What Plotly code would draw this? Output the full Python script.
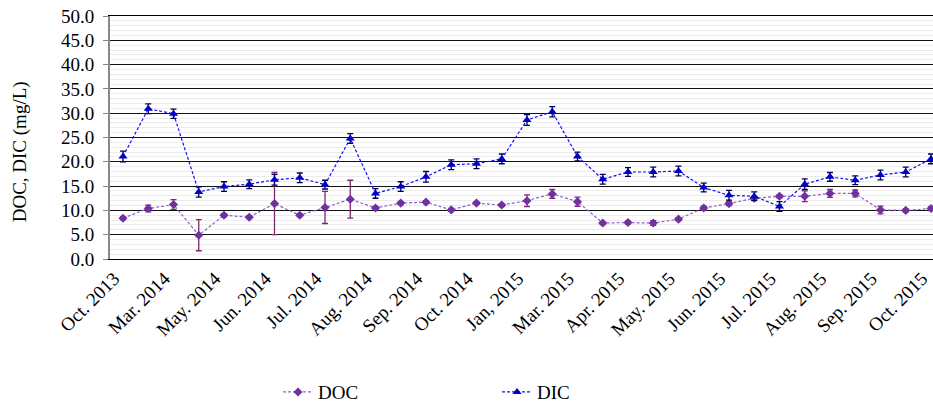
import plotly.graph_objects as go

# Sampling campaigns (33 events); every other one carries a date label
sample_no = list(range(33))
tick_pos = list(range(0, 33, 2))
tick_labels = ["Oct. 2013", "Mar. 2014", "May. 2014", "Jun. 2014", "Jul. 2014",
               "Aug. 2014", "Sep. 2014", "Oct. 2014", "Jan, 2015", "Mar. 2015",
               "Apr. 2015", "May. 2015", "Jun. 2015", "Jul. 2015", "Aug. 2015",
               "Sep. 2015", "Oct. 2015"]

doc = [8.4, 10.4, 11.2, 4.9, 9.0, 8.6, 11.4, 9.0, 10.6, 12.3, 10.5, 11.5, 11.7,
       10.1, 11.5, 11.1, 12.0, 13.4, 11.8, 7.4, 7.5, 7.4, 8.2, 10.5, 11.4, 12.5,
       12.9, 12.9, 13.5, 13.5, 10.1, 10.0, 10.4]
doc_err = [0.3, 0.7, 1.0, 3.2, 0.3, 0.3, 6.4, 0.3, 3.3, 3.9, 0.3, 0.3, 0.3,
           0.3, 0.2, 0.3, 1.2, 0.9, 0.95, 0.3, 0.3, 0.5, 0.3, 0.4, 0.4, 0.3,
           0.3, 1.1, 0.8, 0.7, 0.8, 0.3, 0.3]

dic = [21.1, 30.9, 29.9, 13.8, 14.9, 15.4, 16.3, 16.7, 15.3, 24.8, 13.5, 14.9,
       16.9, 19.4, 19.6, 20.6, 28.6, 30.3, 21.1, 16.4, 17.9, 17.9, 18.1, 14.7,
       13.1, 12.9, 10.8, 15.4, 16.9, 16.2, 17.3, 17.9, 20.6]
dic_err = [1.1, 1.0, 0.95, 1.05, 1.0, 0.9, 1.1, 1.0, 0.9, 1.0, 1.0, 1.0, 1.1,
           1.0, 1.0, 1.0, 1.1, 1.05, 0.9, 1.0, 0.9, 1.0, 1.0, 0.9, 1.0, 0.9,
           1.0, 1.1, 0.9, 0.9, 1.0, 1.0, 1.0]

FONT = "Times New Roman, Liberation Serif, DejaVu Serif, serif"

fig = go.Figure()

fig.add_trace(go.Scatter(
    x=sample_no, y=doc, name="DOC", mode="lines+markers",
    line=dict(color="#9060C8", width=1.2, dash="3px,2px"),
    marker=dict(symbol="diamond", size=7, color="#7030A0"),
    error_y=dict(type="data", array=doc_err, color="#7A2A70",
                 thickness=1.3, width=3),
    cliponaxis=False,
))

fig.add_trace(go.Scatter(
    x=sample_no, y=dic, name="DIC", mode="lines+markers",
    line=dict(color="#1010F0", width=1.2, dash="3px,2px"),
    marker=dict(symbol="triangle-up", size=8, color="#0000C8"),
    error_y=dict(type="data", array=dic_err, color="#000050",
                 thickness=1.3, width=3),
    cliponaxis=False,
))

fig.update_layout(
    width=933, height=403,
    margin=dict(l=110, r=0, t=16, b=144, autoexpand=False),
    paper_bgcolor="white", plot_bgcolor="white",
    font=dict(family=FONT, size=19, color="black"),
    showlegend=True,
    legend=dict(orientation="h", xref="container", yref="container",
                x=0.298, xanchor="left", y=0.027, yanchor="middle",
                entrywidth=174, entrywidthmode="pixels",
                font=dict(family=FONT, size=19), bgcolor="rgba(0,0,0,0)"),
    xaxis=dict(
        range=[-0.515, 32.08], automargin=False,
        tickmode="array", tickvals=tick_pos, ticktext=tick_labels,
        tickangle=-45, ticklabeloverflow="allow",
        ticklabelshift=-9,
        showgrid=False, zeroline=False,
        showline=True, linecolor="black", linewidth=1, mirror=True,
        ticks="", tickfont=dict(family=FONT, size=19),
    ),
    yaxis=dict(
        range=[0, 50], dtick=5, tickformat=".1f", automargin=False,
        ticklabelstandoff=5,
        showgrid=True, gridcolor="#111111", gridwidth=1,
        minor=dict(dtick=1, showgrid=True, gridcolor="#ececec", gridwidth=1),
        zeroline=False, showline=True, linecolor="#888888", linewidth=2,
        ticks="outside", ticklen=5, tickcolor="#888888",
        tickfont=dict(family=FONT, size=19),
    ),
    annotations=[dict(
        text="DOC, DIC (mg/L)", textangle=-90,
        xref="paper", yref="paper", x=-0.1094, y=0.443,
        xanchor="center", yanchor="middle", showarrow=False,
        font=dict(family=FONT, size=19),
    )],
)

fig.write_html("out.html")
